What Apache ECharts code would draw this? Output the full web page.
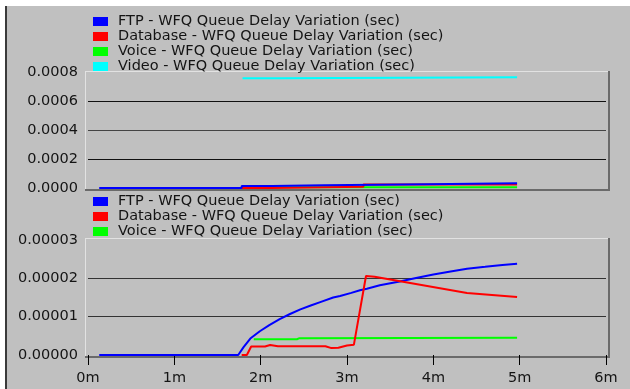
<!DOCTYPE html>
<html><head><meta charset="utf-8">
<script src="https://cdn.jsdelivr.net/npm/echarts@6/dist/echarts.min.js"></script>
<style>html,body{margin:0;padding:0;background:#fff}#c{width:630px;height:389px}</style>
</head><body><div id="c"></div>
<script>
// ---- data (time in minutes, value in seconds) ----
const nameFtp = 'FTP - WFQ Queue Delay Variation (sec)';
const nameDb = 'Database - WFQ Queue Delay Variation (sec)';
const nameVoice = 'Voice - WFQ Queue Delay Variation (sec)';
const nameVideo = 'Video - WFQ Queue Delay Variation (sec)';
const xTickLabels = ['0m','1m','2m','3m','4m','5m','6m'];

// top panel (step-like samples)
const topFtp = [[0.13,0],[1.78,0.000014],[2.13,0.000019],[2.73,0.000026],[3.94,0.000032],[4.97,0.000032]];
const topDb = [[1.78,0],[2.13,0.000009],[3.19,0.000025],[4.97,0.000025]];
const topVoice = [[1.92,0.000005],[4.97,0.000005]];
const topVideo = [[1.79,0.000757],[2.2,0.000763],[4.97,0.000763]];

// bottom panel
const botFtp = [[0.13,0],[1.74,0],[1.80,0.000002],[1.88,0.0000043],[1.99,0.0000062],[2.10,0.0000078],[2.22,0.00000935],[2.34,0.0000107],[2.46,0.0000119],[2.58,0.0000129],[2.69,0.0000138],[2.84,0.000015],[2.92,0.0000154],[3.05,0.0000162],[3.15,0.0000169],[3.23,0.0000173],[3.38,0.0000182],[3.61,0.0000192],[3.80,0.0000201],[4.0,0.000021],[4.2,0.0000218],[4.39,0.0000225],[4.6,0.000023],[4.8,0.0000235],[4.97,0.0000238]];
const botDb = [[1.78,0],[1.84,0],[1.89,0.0000022],[2.05,0.0000022],[2.11,0.0000026],[2.2,0.0000023],[2.75,0.0000023],[2.82,0.0000018],[2.9,0.0000019],[3.0,0.0000025],[3.08,0.0000027],[3.22,0.0000206],[3.32,0.0000204],[4.39,0.0000162],[4.97,0.0000151]];
const botVoice = [[1.92,0.0000041],[2.42,0.0000041],[2.45,0.0000044],[4.97,0.0000045]];

const C_FTP = '#0000ff', C_DB = '#ff0000', C_VOICE = '#00ff00', C_VIDEO = '#00ffff';
const FONT = 'DejaVu Sans';
const FS = 14.5;
const TXT = '#141414';

const chart = echarts.init(document.getElementById('c'), null, {renderer:'canvas'});

function ln(x1,y1,x2,y2,color,w){
  return {type:'line', silent:true, z:-1, shape:{x1,y1,x2,y2}, style:{stroke:color, lineWidth:w}};
}
function frame(l,t,r,b){
  return [
    ln(l,t+0.5,r,t+0.5,'#e2e2e2',1),
    ln(l+0.5,t,l+0.5,b,'#e2e2e2',1),
    ln(r,t,r,b+1,'#6a6a6a',2),
    ln(l,b,r+1,b,'#6a6a6a',2)
  ];
}

const lineSeries = (name, data, color, x, y, step) => ({
  name, type:'line', data, xAxisIndex:x, yAxisIndex:y, step: step ? 'end' : false,
  showSymbol:false, symbol:'none', lineStyle:{color, width:2}, itemStyle:{color},
  animation:false
});

const legendText = {fontFamily:FONT, fontSize:FS, color:TXT, lineHeight:14, padding:[0,0,0,5]};

const option = {
  backgroundColor:'#ffffff',
  animation:false,
  textStyle:{fontFamily:FONT},
  graphic:[
    {type:'rect', silent:true, z:-10, shape:{x:7,y:6,width:623,height:383}, style:{fill:'#c0c0c0'}},
    ln(6,6,6,389,'#3a3a3a',2),
    ...frame(85,71,609,190),
    ...frame(85,238,609,357)
  ],
  legend:[
    {data:[nameFtp,nameDb,nameVoice,nameVideo], orient:'vertical', left:93, top:14, padding:0,
     icon:'rect', itemWidth:15, itemHeight:9, itemGap:0, textStyle:legendText},
    {data:[nameFtp,nameDb,nameVoice], orient:'vertical', left:93, top:194, padding:0,
     icon:'rect', itemWidth:15, itemHeight:9, itemGap:0, textStyle:legendText}
  ],
  grid:[
    {left:88, top:72, width:518, height:116},
    {left:88, top:240, width:518, height:115}
  ],
  xAxis:[
    {type:'value', gridIndex:0, min:0, max:6, interval:1, show:false, splitLine:{show:false}},
    {type:'value', gridIndex:1, min:0, max:6, interval:1, offset:3,
     axisLine:{show:false}, axisTick:{show:true, length:10, lineStyle:{color:'#000', width:1}},
     splitLine:{show:false},
     axisLabel:{margin:13, fontFamily:FONT, fontSize:FS, color:TXT, formatter:(v)=>xTickLabels[Math.round(v)]}}
  ],
  yAxis:[
    {type:'value', gridIndex:0, min:0, max:0.0008, interval:0.0002,
     axisLine:{show:false}, axisTick:{show:false},
     splitLine:{show:true, lineStyle:{color:['transparent','#111','#444','#111','transparent'], width:1}},
     axisLabel:{margin:10, fontFamily:FONT, fontSize:FS, color:TXT, formatter:(v)=>v.toFixed(4)}},
    {type:'value', gridIndex:1, min:0, max:0.00003, interval:0.00001,
     axisLine:{show:false}, axisTick:{show:false},
     splitLine:{show:true, lineStyle:{color:['transparent','#333','#333','transparent'], width:1}},
     axisLabel:{margin:10, fontFamily:FONT, fontSize:FS, color:TXT, formatter:(v)=>v.toFixed(5)}}
  ],
  series:[
    lineSeries(nameVideo, topVideo, C_VIDEO, 0, 0, true),
    lineSeries(nameVoice, topVoice, C_VOICE, 0, 0, true),
    lineSeries(nameDb, topDb, C_DB, 0, 0, true),
    lineSeries(nameFtp, topFtp, C_FTP, 0, 0, true),
    lineSeries(nameVoice, botVoice, C_VOICE, 1, 1, false),
    lineSeries(nameFtp, botFtp, C_FTP, 1, 1, false),
    lineSeries(nameDb, botDb, C_DB, 1, 1, false)
  ]
};
chart.setOption(option);
</script></body></html>
